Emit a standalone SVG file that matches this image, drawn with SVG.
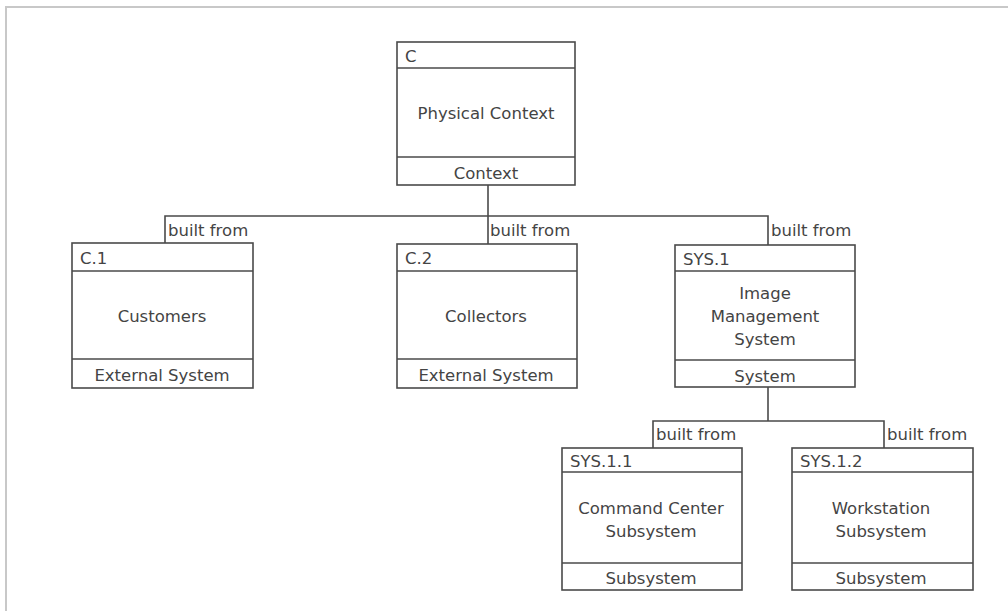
<svg xmlns="http://www.w3.org/2000/svg" width="1008" height="611" viewBox="0 0 1008 611">
  <style>
    .box { fill: #ffffff; stroke: #4a4a4a; stroke-width: 1.6; }
    .sep { stroke: #4a4a4a; stroke-width: 1.6; }
    .wire { fill: none; stroke: #4a4a4a; stroke-width: 1.6; }
    text { font-family: "DejaVu Sans", Verdana, sans-serif; font-size: 16.5px; fill: #444444; }
    .mid { text-anchor: middle; }
  </style>
  <rect x="0" y="0" width="1008" height="611" fill="#ffffff"/>
  <!-- canvas frame -->
  <path d="M6 611 V7 H1008" fill="none" stroke="#c8c8c8" stroke-width="2"/>

  <!-- connectors -->
  <g id="connectors">
    <path class="wire" d="M488 185 V216"/>
    <path class="wire" d="M165 243 V216 H768 V245"/>
    <path class="wire" d="M488 216 V244"/>
    <path class="wire" d="M768 387 V421"/>
    <path class="wire" d="M653 448 V421 H884 V448"/>
    <text x="168" y="236">built from</text>
    <text x="490" y="236">built from</text>
    <text x="771" y="236">built from</text>
    <text x="656" y="440">built from</text>
    <text x="887" y="440">built from</text>
  </g>

  <g id="node-c">
    <rect class="box" x="397" y="42" width="178" height="143"/>
    <line class="sep" x1="397" y1="68" x2="575" y2="68"/>
    <line class="sep" x1="397" y1="157" x2="575" y2="157"/>
    <text x="405" y="62">C</text>
    <text class="mid" x="486" y="119">Physical Context</text>
    <text class="mid" x="486" y="179">Context</text>
  </g>

  <g id="node-c1">
    <rect class="box" x="72" y="243" width="181" height="145"/>
    <line class="sep" x1="72" y1="271" x2="253" y2="271"/>
    <line class="sep" x1="72" y1="359" x2="253" y2="359"/>
    <text x="80" y="264">C.1</text>
    <text class="mid" x="162" y="322">Customers</text>
    <text class="mid" x="162" y="381">External System</text>
  </g>

  <g id="node-c2">
    <rect class="box" x="397" y="244" width="180" height="144"/>
    <line class="sep" x1="397" y1="271" x2="577" y2="271"/>
    <line class="sep" x1="397" y1="359" x2="577" y2="359"/>
    <text x="405" y="264">C.2</text>
    <text class="mid" x="486" y="322">Collectors</text>
    <text class="mid" x="486" y="381">External System</text>
  </g>

  <g id="node-sys1">
    <rect class="box" x="675" y="245" width="180" height="142"/>
    <line class="sep" x1="675" y1="271" x2="855" y2="271"/>
    <line class="sep" x1="675" y1="360" x2="855" y2="360"/>
    <text x="683" y="265">SYS.1</text>
    <text class="mid" x="765" y="299">Image</text>
    <text class="mid" x="765" y="322">Management</text>
    <text class="mid" x="765" y="345">System</text>
    <text class="mid" x="765" y="382">System</text>
  </g>

  <g id="node-sys11">
    <rect class="box" x="562" y="448" width="180" height="142"/>
    <line class="sep" x1="562" y1="472" x2="742" y2="472"/>
    <line class="sep" x1="562" y1="563" x2="742" y2="563"/>
    <text x="570" y="467">SYS.1.1</text>
    <text class="mid" x="651" y="514">Command Center</text>
    <text class="mid" x="651" y="537">Subsystem</text>
    <text class="mid" x="651" y="584">Subsystem</text>
  </g>

  <g id="node-sys12">
    <rect class="box" x="792" y="448" width="181" height="142"/>
    <line class="sep" x1="792" y1="472" x2="973" y2="472"/>
    <line class="sep" x1="792" y1="563" x2="973" y2="563"/>
    <text x="800" y="467">SYS.1.2</text>
    <text class="mid" x="881" y="514">Workstation</text>
    <text class="mid" x="881" y="537">Subsystem</text>
    <text class="mid" x="881" y="584">Subsystem</text>
  </g>
</svg>
